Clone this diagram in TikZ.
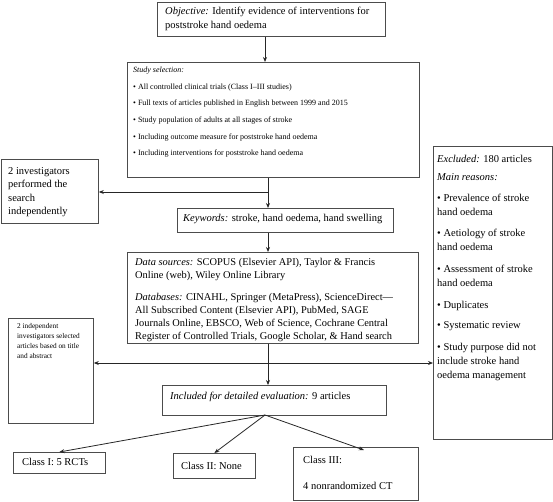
\documentclass[tikz,border=0pt]{standalone}
\usepackage{fontspec}
\setmainfont{Liberation Serif}
\usetikzlibrary{arrows.meta,calc}
\begin{document}
\begin{tikzpicture}[x=1pt,y=-1pt,
  box/.style={draw=black!70, line width=0.8pt, inner sep=0pt, anchor=north west},
  txt/.style={anchor=north west, inner sep=0pt, align=left},
  arr/.style={-{Stealth[length=5pt,width=4pt]}, draw=black!85, line width=0.8pt},
  darr/.style={{Stealth[length=5pt,width=4pt]}-{Stealth[length=5pt,width=4pt]}, draw=black!85, line width=0.8pt}]
\useasboundingbox (0,0) rectangle (553,501);
% boxes
\node[box, minimum width=228pt, minimum height=34pt] (obj) at (157,2) {};
\node[box, minimum width=292pt, minimum height=115pt] (sel) at (127,62) {};
\node[box, minimum width=97pt, minimum height=64pt] (inv1) at (1,159) {};
\node[box, minimum width=216pt, minimum height=24pt] (kw) at (177,208) {};
\node[box, minimum width=291pt, minimum height=91pt] (data) at (127,252) {};
\node[box, minimum width=85pt, minimum height=105pt] (inv2) at (8,318) {};
\node[box, minimum width=119pt, minimum height=293pt] (excl) at (433,146) {};
\node[box, minimum width=224pt, minimum height=30pt] (incl) at (162,385) {};
\node[box, minimum width=92pt, minimum height=21pt] (c1) at (13,452) {};
\node[box, minimum width=82pt, minimum height=25pt] (c2) at (173,453) {};
\node[box, minimum width=125pt, minimum height=53pt] (c3) at (293,447) {};
% texts
\node[txt, font={\fontsize{10.5}{14}\selectfont}] (tobj) at (165,7) {\textit{Objective:} Identify evidence of interventions for\\poststroke hand oedema};
\node[txt, font={\fontsize{8}{16.6}\selectfont}] (tsel) at (133,67) {\textit{Study selection:}\\
• All controlled clinical trials (Class I–III studies)\\
• Full texts of articles published in English between 1999 and 2015\\
• Study population of adults at all stages of stroke\\
• Including outcome measure for poststroke hand oedema\\
• Including interventions for poststroke hand oedema};
\node[txt, font={\fontsize{10.5}{13.5}\selectfont}] (tinv1) at (8,167) {2 investigators\\performed the\\search\\independently};
\node[txt, font={\fontsize{10.5}{14}\selectfont}] (tkw) at (183,214) {\textit{Keywords:} stroke, hand oedema, hand swelling};
\node[txt, font={\fontsize{10.4}{13.3}\selectfont}] (tdata) at (135,258) {\textit{Data sources:} SCOPUS (Elsevier API), Taylor \& Francis\\Online (web), Wiley Online Library\\[8pt]
\textit{Databases:} CINAHL, Springer (MetaPress), ScienceDirect—\\All Subscribed Content (Elsevier API), PubMed, SAGE\\Journals Online, EBSCO, Web of Science, Cochrane Central\\Register of Controlled Trials, Google Scholar, \& Hand search};
\node[txt, font={\fontsize{7.3}{10}\selectfont}] (tinv2) at (17,323.5) {2 independent\\investigators selected\\articles based on title\\and abstract};
\node[txt, font={\fontsize{10.5}{14}\selectfont}] (texcl) at (437,155) {\textit{Excluded:} 180 articles\\[4pt]
\textit{Main reasons:}\\[7.5pt]
• Prevalence of stroke\\hand oedema\\[7pt]
• Aetiology of stroke\\hand oedema\\[7.5pt]
• Assessment of stroke\\hand oedema\\[8pt]
• Duplicates\\[6pt]
• Systematic review\\[8pt]
• Study purpose did not\\include stroke hand\\oedema management};
\node[txt, font={\fontsize{10.5}{14}\selectfont}] (tincl) at (170,392) {\textit{Included for detailed evaluation:} 9 articles};
\node[txt, font={\fontsize{10.5}{14}\selectfont}] (tc1) at (22,458) {Class I: 5 RCTs};
\node[txt, font={\fontsize{10.5}{14}\selectfont}] (tc2) at (181,462) {Class II: None};
\node[txt, font={\fontsize{10.5}{26}\selectfont}] (tc3) at (303,456) {Class III:\\4 nonrandomized CT};
% connectors
\coordinate (sp) at (268,0);
\coordinate (j1) at (268,192);
\coordinate (j2) at (268,363);
\coordinate (fan) at (265,415);
\draw[arr] (obj.south -| 265,0) -- (sel.north -| 265,0);
\draw[arr] (sel.south -| sp) -- (kw.north -| sp);
\draw[arr] (j1) -- (inv1.east |- j1);
\draw[arr] (kw.south -| sp) -- (data.north -| sp);
\draw[arr] (data.south -| sp) -- (incl.north -| sp);
\draw[darr] (inv2.east |- j2) -- (excl.west |- j2);
\draw[arr] (fan) -- (c1.north);
\draw[arr] (fan) -- (c2.north);
\draw[arr] (fan) -- ($(c3.north)+(8,3)$);
\end{tikzpicture}
\end{document}
